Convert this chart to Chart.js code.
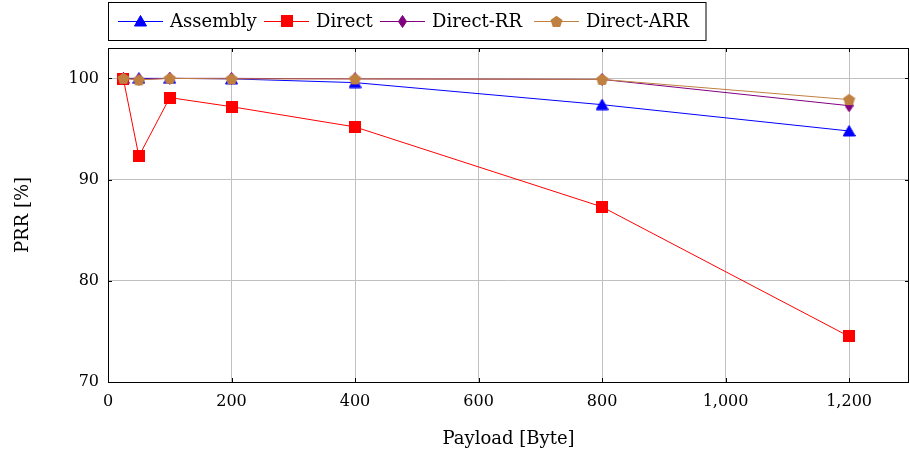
<!DOCTYPE html>
<html>
<head>
<meta charset="utf-8">
<script src="https://cdn.jsdelivr.net/npm/chart.js@4/dist/chart.umd.min.js"></script>
<style>
  html, body { margin: 0; padding: 0; background: #ffffff; }
  #wrap { width: 910px; height: 454px; position: relative; }
</style>
</head>
<body>
<div id="wrap"><canvas id="prr" width="910" height="454"></canvas></div>
<script>
// Packet reception ratio vs. payload size
const payload = [25, 50, 100, 200, 400, 800, 1200];
const seriesNames = ['Assembly', 'Direct', 'Direct-RR', 'Direct-ARR'];
const assembly = [100, 100, 100, 99.95, 99.58, 97.4, 94.8];
const direct = [99.9, 92.3, 98.1, 97.2, 95.2, 87.3, 74.5];
const directRR = [100, 99.9, 100, 100, 99.95, 99.9, 97.3];
const directARR = [100, 99.85, 100, 99.95, 99.95, 99.9, 97.9];
const xTicks = [0, 200, 400, 600, 800, 1000, 1200];
const yTicks = [70, 80, 90, 100];

const FONT = 'DejaVu Serif';

// marker sprites
function sprite(w, h, draw) {
  const c = document.createElement('canvas');
  c.width = w; c.height = h;
  const g = c.getContext('2d');
  draw(g, w, h);
  return c;
}
function triangle(color) {
  return sprite(13, 12, (g) => {
    g.fillStyle = color; g.strokeStyle = color; g.lineWidth = 1;
    g.beginPath(); g.moveTo(6.5, 0.5); g.lineTo(12.5, 11); g.lineTo(0.5, 11); g.closePath();
    g.fill(); g.stroke();
  });
}
function square(color) {
  return sprite(12, 12, (g) => {
    g.fillStyle = color; g.fillRect(0, 0, 12, 12);
  });
}
function diamond(color) {
  return sprite(9, 13, (g) => {
    g.fillStyle = color; g.strokeStyle = color; g.lineWidth = 1;
    g.beginPath(); g.moveTo(4.5, 0.5); g.lineTo(8.5, 6.5); g.lineTo(4.5, 12.5); g.lineTo(0.5, 6.5); g.closePath();
    g.fill(); g.stroke();
  });
}
function pentagon(color) {
  return sprite(13, 13, (g) => {
    g.fillStyle = color;
    g.beginPath();
    for (let i = 0; i < 5; i++) {
      const a = -Math.PI / 2 + i * 2 * Math.PI / 5;
      const px = 6.5 + 6.3 * Math.cos(a), py = 7 + 6.3 * Math.sin(a);
      if (i === 0) g.moveTo(px, py); else g.lineTo(px, py);
    }
    g.closePath(); g.fill();
  });
}

const colors = ['#0000ff', '#ff0000', '#800080', '#bf8040'];
const markers = [triangle(colors[0]), square(colors[1]), diamond(colors[2]), pentagon(colors[3])];
const values = [assembly, direct, directRR, directARR];

const datasets = values.map((vals, i) => ({
  label: seriesNames[i],
  data: payload.map((x, j) => ({ x: x, y: vals[j] })),
  borderColor: colors[i],
  backgroundColor: colors[i],
  borderWidth: 1,
  pointStyle: markers[i],
  pointRadius: 6,
  pointHoverRadius: 6,
  tension: 0,
  order: 3 - i
}));

// boxed legend with line + marker samples, and a framed plot area
const framePlugin = {
  id: 'frame',
  afterDatasetsDraw(chart) {
    const { ctx, chartArea: a } = chart;
    ctx.save();
    ctx.strokeStyle = '#000000';
    ctx.lineWidth = 1;
    ctx.strokeRect(Math.round(a.left) + 0.5, Math.round(a.top) + 0.5,
      Math.round(a.right - a.left) - 1, Math.round(a.bottom - a.top));
    // inner tick marks
    const xs = chart.scales.x, ys = chart.scales.y;
    ctx.beginPath();
    xTicks.forEach(v => {
      const px = Math.round(xs.getPixelForValue(v)) + 0.5;
      ctx.moveTo(px, a.bottom); ctx.lineTo(px, a.bottom - 4);
      ctx.moveTo(px, a.top); ctx.lineTo(px, a.top + 4);
    });
    yTicks.forEach(v => {
      const py = Math.round(ys.getPixelForValue(v)) + 0.5;
      ctx.moveTo(a.left, py); ctx.lineTo(a.left + 4, py);
      ctx.moveTo(a.right, py); ctx.lineTo(a.right - 4, py);
    });
    ctx.stroke();
    ctx.restore();
  },
  afterDraw(chart) {
    const { ctx } = chart;
    ctx.save();
    ctx.font = '18px "' + FONT + '"';
    ctx.textBaseline = 'middle';
    ctx.textAlign = 'left';
    const top = 2, h = 38, cy = top + h / 2;
    const left = 108.5, right = 706;
    const entryX = [118, 264, 380, 534];
    chart.data.datasets.forEach((ds, i) => {
      const x = entryX[i];
      ctx.strokeStyle = ds.borderColor;
      ctx.lineWidth = 1;
      ctx.beginPath();
      ctx.moveTo(x, cy + 0.5); ctx.lineTo(x + 45, cy + 0.5);
      ctx.stroke();
      const m = markers[i];
      ctx.drawImage(m, Math.round(x + 22.5 - m.width / 2), Math.round(cy - m.height / 2));
      ctx.fillStyle = '#000000';
      ctx.fillText(ds.label, x + 52, cy + 1);
    });
    ctx.strokeStyle = '#000000';
    ctx.lineWidth = 1;
    ctx.strokeRect(left, top + 0.5, right - left, h);
    ctx.restore();
  }
};

new Chart(document.getElementById('prr'), {
  type: 'line',
  data: { datasets: datasets },
  options: {
    responsive: false,
    animation: false,
    devicePixelRatio: 1,
    layout: { autoPadding: false, padding: { top: 48, right: 1, left: 0, bottom: 0 } },
    plugins: { legend: { display: false }, tooltip: { enabled: false } },
    scales: {
      x: {
        type: 'linear',
        min: 0,
        max: 1297,
        afterBuildTicks(scale) { scale.ticks = xTicks.map(v => ({ value: v })); },
        afterFit(scale) { scale.height = 72; scale.paddingLeft = 0; scale.paddingRight = 0; },
        grid: { color: '#c0c0c0', lineWidth: 1, drawTicks: false },
        border: { display: false },
        ticks: {
          padding: 10,
          color: '#000000',
          font: { family: FONT, size: 16 },
          maxRotation: 0,
          callback: (v) => v.toLocaleString('en-US')
        },
        title: {
          display: true,
          text: 'Payload [Byte]',
          color: '#000000',
          font: { family: FONT, size: 18 },
          padding: { top: 16 }
        }
      },
      y: {
        type: 'linear',
        min: 70,
        max: 103,
        afterBuildTicks(scale) { scale.ticks = yTicks.map(v => ({ value: v })); },
        afterFit(scale) { scale.width = 108; },
        grid: { color: '#c0c0c0', lineWidth: 1, drawTicks: false },
        border: { display: false },
        ticks: {
          padding: 9,
          color: '#000000',
          font: { family: FONT, size: 16 }
        },
        title: {
          display: true,
          text: 'PRR [%]',
          color: '#000000',
          font: { family: FONT, size: 18 },
          padding: { bottom: 0, top: 13 }
        }
      }
    }
  },
  plugins: [framePlugin]
});
</script>
</body>
</html>
